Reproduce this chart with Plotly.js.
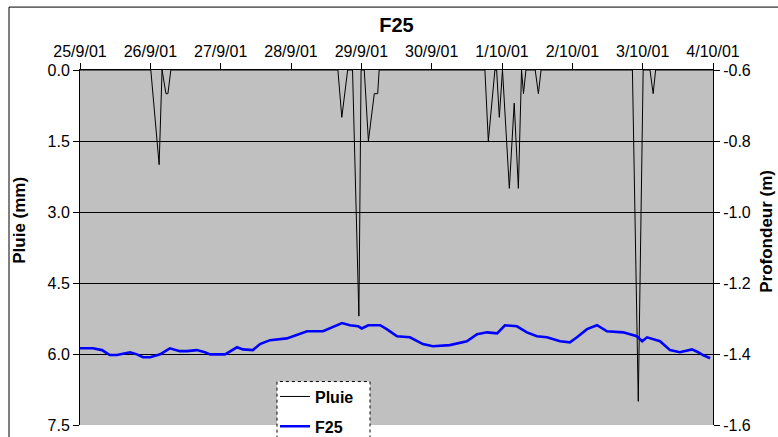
<!DOCTYPE html>
<html>
<head>
<meta charset="utf-8">
<script src="https://cdn.plot.ly/plotly-3.0.1.min.js"></script>
<style>
html,body{margin:0;padding:0;background:#fff;overflow:hidden;}
#chart{width:778px;height:437px;}
</style>
</head>
<body>
<div id="chart"></div>
<script>
// ---- Data ----
const chartTitle = "F25";
const dayTicks = ["2001-09-25","2001-09-26","2001-09-27","2001-09-28","2001-09-29","2001-09-30","2001-10-01","2001-10-02","2001-10-03","2001-10-04"];
const dayLabels = ["25/9/01","26/9/01","27/9/01","28/9/01","29/9/01","30/9/01","1/10/01","2/10/01","3/10/01","4/10/01"];
const rainTickVals = [0, 1.5, 3, 4.5, 6, 7.5];
const rainTickText = ["0.0","1.5","3.0","4.5","6.0","7.5"];
const depthTickVals = [-0.6, -0.8, -1.0, -1.2, -1.4, -1.6];
const depthTickText = ["-0.6","-0.8","-1.0","-1.2","-1.4","-1.6"];

// Pluie (mm)
const rainTime = [
  "2001-09-25 00:00","2001-09-26 00:10","2001-09-26 03:00","2001-09-26 04:00","2001-09-26 05:20","2001-09-26 06:00","2001-09-26 07:00",
  "2001-09-28 16:00","2001-09-28 17:20","2001-09-28 19:20","2001-09-28 21:00","2001-09-28 23:10","2001-09-28 23:55",
  "2001-09-29 01:00","2001-09-29 02:25","2001-09-29 04:25","2001-09-29 05:35","2001-09-29 06:05",
  "2001-09-30 18:10","2001-09-30 19:20","2001-09-30 21:35","2001-09-30 22:10","2001-09-30 23:05",
  "2001-10-01 00:10","2001-10-01 02:30","2001-10-01 04:10","2001-10-01 05:35","2001-10-01 06:40","2001-10-01 07:20","2001-10-01 08:10",
  "2001-10-01 11:20","2001-10-01 12:25","2001-10-01 13:20",
  "2001-10-02 20:30","2001-10-02 22:30","2001-10-03 00:10","2001-10-03 02:30","2001-10-03 03:35","2001-10-03 04:25",
  "2001-10-04 00:00"
];
const rainValue = [
  0, 0, 2.0, 0, 0.5, 0.5, 0,
  0, 1.0, 0, 0, 5.2, 0,
  0, 1.5, 0.5, 0.5, 0,
  0, 1.5, 0, 0, 1.0,
  0, 2.5, 0.7, 2.5, 0, 0.5, 0,
  0, 0.5, 0,
  0, 7.0, 0, 0, 0.5, 0,
  0
];

// F25 (m)
const f25Time = [
  "2001-09-25 00:00","2001-09-25 04:25","2001-09-25 07:30","2001-09-25 10:10","2001-09-25 12:35","2001-09-25 17:05","2001-09-25 19:25","2001-09-25 21:30","2001-09-25 23:55",
  "2001-09-26 03:20","2001-09-26 06:40","2001-09-26 10:05","2001-09-26 12:30","2001-09-26 15:55","2001-09-26 18:35","2001-09-26 20:25",
  "2001-09-27 01:30","2001-09-27 05:35","2001-09-27 07:35","2001-09-27 11:00","2001-09-27 13:25","2001-09-27 16:50","2001-09-27 22:35",
  "2001-09-28 02:00","2001-09-28 05:30","2001-09-28 10:55","2001-09-28 14:20","2001-09-28 17:25","2001-09-28 20:05","2001-09-28 22:55",
  "2001-09-29 00:10","2001-09-29 02:20","2001-09-29 06:25","2001-09-29 08:40","2001-09-29 12:10","2001-09-29 16:35","2001-09-29 21:00",
  "2001-09-30 00:25","2001-09-30 06:10","2001-09-30 12:00","2001-09-30 15:30","2001-09-30 18:55","2001-09-30 22:20",
  "2001-10-01 01:00","2001-10-01 05:05","2001-10-01 08:30","2001-10-01 11:55","2001-10-01 15:20","2001-10-01 19:50","2001-10-01 23:10",
  "2001-10-02 01:35","2001-10-02 05:00","2001-10-02 08:25","2001-10-02 11:50","2001-10-02 17:20","2001-10-02 22:00","2001-10-02 23:50",
  "2001-10-03 01:30","2001-10-03 05:55","2001-10-03 09:20","2001-10-03 12:40","2001-10-03 16:50","2001-10-03 18:55","2001-10-03 20:35","2001-10-03 23:00"
];
const f25Value = [
  -1.384,-1.384,-1.389,-1.403,-1.403,-1.395,-1.401,-1.409,-1.409,
  -1.401,-1.384,-1.392,-1.392,-1.389,-1.395,-1.401,
  -1.401,-1.381,-1.387,-1.389,-1.372,-1.361,-1.356,
  -1.347,-1.336,-1.336,-1.325,-1.313,-1.319,-1.322,
  -1.328,-1.319,-1.319,-1.330,-1.350,-1.353,-1.372,
  -1.378,-1.375,-1.364,-1.344,-1.339,-1.342,
  -1.319,-1.322,-1.339,-1.350,-1.353,-1.364,-1.367,
  -1.353,-1.330,-1.319,-1.336,-1.339,-1.350,-1.364,
  -1.353,-1.364,-1.389,-1.395,-1.387,-1.395,-1.403,-1.412
];

// ---- Chart ----
const FONT = "Liberation Sans, Arial, sans-serif";
const L = 80, R = 713, T = 70, B = 425.5;
const W = R - L, H = B - T;
const px = x => (x - L) / W;
const py = y => (B - y) / H;

const traces = [
  {
    x: rainTime, y: rainValue, name: "Pluie", type: "scatter", mode: "lines",
    line: {color: "#000000", width: 1}, yaxis: "y", legendgroup: "a"
  },
  {
    x: f25Time, y: f25Value, name: "F25", type: "scatter", mode: "lines",
    line: {color: "#0000FF", width: 2.6}, yaxis: "y2", legendgroup: "b"
  }
];

const layout = {
  width: 778, height: 437,
  margin: {l: L, r: 778 - R, t: T, b: 437 - B, pad: 0, autoexpand: false},
  paper_bgcolor: "#FFFFFF",
  plot_bgcolor: "#C0C0C0",
  font: {family: FONT, color: "#000000", size: 16},
  title: {
    text: "<b>" + chartTitle + "</b>",
    font: {family: FONT, size: 20, color: "#000000"},
    x: px(396.5), xref: "paper", xanchor: "center",
    y: 1 - 25 / 437, yref: "container", yanchor: "middle"
  },
  xaxis: {
    type: "date", side: "top",
    range: [dayTicks[0], dayTicks[dayTicks.length - 1]],
    tickmode: "array", tickvals: dayTicks, ticktext: dayLabels, tickangle: 0,
    ticks: "outside", ticklen: 6, tickcolor: "#000000", tickwidth: 1,
    showgrid: false, zeroline: false,
    showline: true, linecolor: "#000000", linewidth: 1,
    tickfont: {family: FONT, size: 16, color: "#000000"},
    fixedrange: true, automargin: false
  },
  yaxis: {
    range: [7.5, 0],
    tickmode: "array", tickvals: rainTickVals, ticktext: rainTickText,
    ticks: "outside", ticklen: 6, tickcolor: "#000000",
    showgrid: true, gridcolor: "#000000", gridwidth: 1,
    zeroline: false, showline: true, linecolor: "#000000", linewidth: 1,
    tickfont: {family: FONT, size: 16, color: "#000000"},
    fixedrange: true, automargin: false
  },
  yaxis2: {
    overlaying: "y", side: "right",
    range: [-1.6, -0.6],
    tickmode: "array", tickvals: depthTickVals, ticktext: depthTickText,
    ticks: "outside", ticklen: 6, tickcolor: "#000000",
    showgrid: false, zeroline: false,
    showline: true, linecolor: "#000000", linewidth: 1,
    tickfont: {family: FONT, size: 16, color: "#000000"},
    fixedrange: true, automargin: false
  },
  showlegend: true,
  legend: {
    x: px(275), y: py(380), xanchor: "left", yanchor: "top",
    bgcolor: "rgba(0,0,0,0)", borderwidth: 0,
    traceorder: "grouped", tracegroupgap: 6,
    font: {family: FONT, size: 16, color: "#000000", weight: "bold"},
    itemwidth: 30
  },
  shapes: [
    {type: "rect", xref: "paper", yref: "paper", layer: "above",
     x0: px(277), x1: px(370), y0: py(460), y1: py(382),
     fillcolor: "#FFFFFF", line: {color: "#000000", width: 1, dash: "dot"}},
    {type: "rect", xref: "paper", yref: "paper", layer: "below",
     x0: px(9), x1: px(860), y0: py(470), y1: py(7),
     fillcolor: "rgba(0,0,0,0)", line: {color: "#000000", width: 1}}
  ],
  annotations: [
    {text: "<b>Pluie (mm)</b>", xref: "paper", yref: "paper", x: px(20), y: py(221),
     xanchor: "center", yanchor: "middle", textangle: -90, showarrow: false,
     font: {family: FONT, size: 17, color: "#000000"}},
    {text: "<b>Profondeur (m)</b>", xref: "paper", yref: "paper", x: px(767), y: py(232),
     xanchor: "center", yanchor: "middle", textangle: -90, showarrow: false,
     font: {family: FONT, size: 17, color: "#000000"}}
  ]
};

Plotly.newPlot("chart", traces, layout, {displayModeBar: false, staticPlot: true});
</script>
</body>
</html>
